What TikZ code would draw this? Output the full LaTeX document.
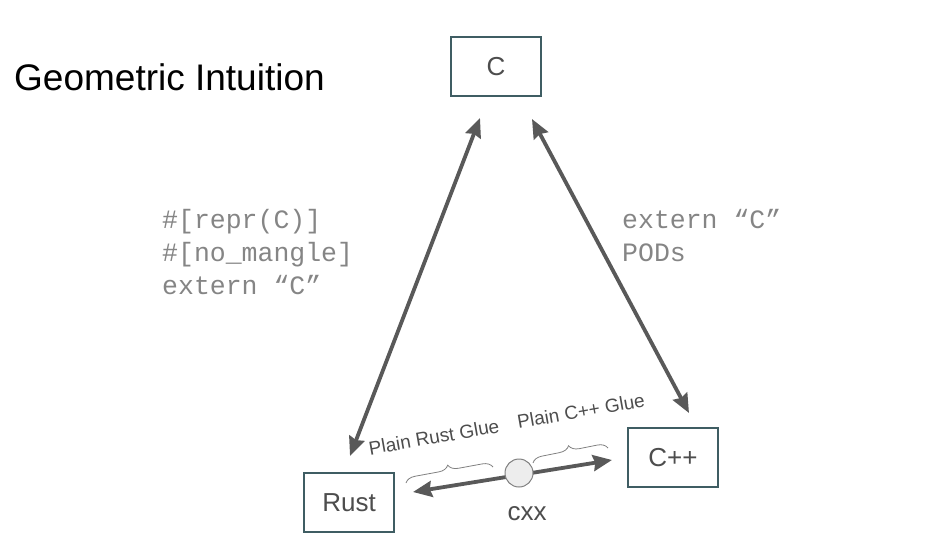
\documentclass[tikz,border=0pt]{standalone}
\usepackage{fontspec}
\setmainfont{Liberation Sans}
\newfontfamily\codefont{Liberation Mono}
\usetikzlibrary{arrows.meta,decorations.pathreplacing}
\definecolor{boxline}{HTML}{3F5D63}
\definecolor{arrowgray}{HTML}{595959}
\definecolor{codegray}{HTML}{858585}
\definecolor{textgray}{HTML}{4D4D4D}
\tikzset{
  langbox/.style={draw=boxline, line width=1.4pt, fill=white, minimum width=90pt, minimum height=59pt, inner sep=0pt, text=textgray, font=\fontsize{26}{30}\selectfont},
  bigarrow/.style={draw=arrowgray, line width=3.8pt, {Stealth[length=19pt,width=16pt,inset=2pt]}-{Stealth[length=19pt,width=16pt,inset=2pt]}},
  codeline/.style={anchor=base west, inner sep=0pt, text=codegray, font=\codefont\fontsize{26.5}{33}\selectfont},
  gluebrace/.style={draw=gray, line width=0.8pt, decorate, decoration={brace, amplitude=10pt}},
  gluelabel/.style={inner sep=0pt, text=textgray, font=\fontsize{19}{21}\selectfont, rotate=10}
}
\begin{document}
\begin{tikzpicture}[x=1pt,y=-1pt]
\useasboundingbox (0,0) rectangle (930,547);
\node[anchor=base west, inner sep=0pt, font=\fontsize{37}{40}\selectfont] (title) at (14,90) {Geometric Intuition};

\node[langbox] (c) at (496,66.5) {C};
\node[langbox] (rust) at (349,502.5) {Rust};
\node[langbox] (cpp) at (673,457.5) {C++};

\coordinate (rc-top) at (480,118);
\coordinate (rc-bot) at (350,456);
\coordinate (cc-top) at (532,119);
\coordinate (cc-bot) at (689,413);
\coordinate (h-left) at (413,492);
\coordinate (h-right) at (612,460);

\draw[bigarrow] (rc-bot) -- (rc-top);
\draw[bigarrow] (cc-top) -- (cc-bot);
\draw[bigarrow] (h-left) -- (h-right);

\node[circle, draw=gray, line width=1pt, fill=black!7, minimum size=28pt, inner sep=0pt] (cxxdot) at (519,473) {};
\node[inner sep=0pt, text=textgray, font=\fontsize{26}{30}\selectfont] (cxx) at (527,514) {cxx};

\coordinate (lb-a) at (406,483);
\coordinate (lb-b) at (493,467);
\coordinate (rb-a) at (533,463);
\coordinate (rb-b) at (608,448);
\draw[gluebrace] (lb-a) -- (lb-b);
\draw[gluebrace] (rb-a) -- (rb-b);

\node[gluelabel] (rustglue) at (434,437) {Plain Rust Glue};
\node[gluelabel] (cppglue) at (581,411) {Plain C++ Glue};

\node[codeline] (l1) at (162,228) {\#[repr(C)]};
\node[codeline] (l2) at (162,261) {\#[no\_mangle]};
\node[codeline] (l3) at (162,294) {extern “C”};
\node[codeline] (r1) at (622,228) {extern “C”};
\node[codeline] (r2) at (622,261) {PODs};
\end{tikzpicture}
\end{document}
